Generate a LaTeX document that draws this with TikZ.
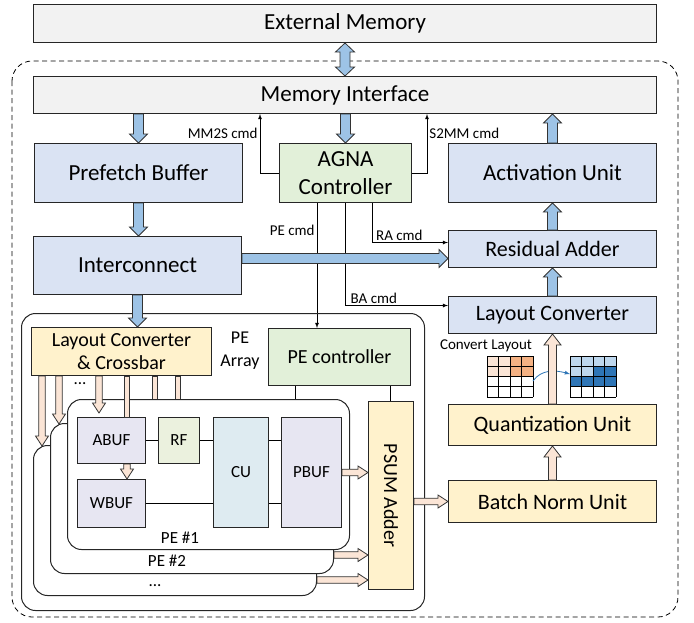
\documentclass[tikz,border=0pt]{standalone}
\usepackage{fontspec}
\setmainfont{Carlito}
\usepackage{graphicx}
\usetikzlibrary{arrows,positioning,calc}

\definecolor{memgray}{RGB}{242,242,242}
\definecolor{unitblue}{RGB}{218,227,243}
\definecolor{ctrlgreen}{RGB}{226,240,217}
\definecolor{unityellow}{RGB}{255,242,204}
\definecolor{buflav}{RGB}{231,230,242}
\definecolor{rfgreen}{RGB}{235,241,222}
\definecolor{cublue}{RGB}{222,235,241}
\definecolor{arrowblue}{RGB}{157,195,230}
\definecolor{arrowpink}{RGB}{251,229,214}
\definecolor{cellorange}{RGB}{244,177,131}
\definecolor{celllight}{RGB}{189,215,238}
\definecolor{celldark}{RGB}{46,117,182}

\tikzset{
  fatsize/.code args={#1/#2/#3}{\def\fatsw{#1}\def\fathw{#2}\def\fathl{#3}},
  fat/.style={to path={let \p1=(\tikztostart), \p2=(\tikztotarget), \p3=($(\p2)!\fathl!(\p1)$) in
      ($(\p1)!\fatsw!90:(\p2)$) -- ($(\p3)!\fatsw!90:(\p2)$) -- ($(\p3)!\fathw!90:(\p2)$)
      -- (\p2) -- ($(\p3)!\fathw!-90:(\p2)$) -- ($(\p3)!\fatsw!-90:(\p2)$)
      -- ($(\p1)!\fatsw!-90:(\p2)$) -- cycle}},
  fatboth/.style={to path={let \p1=(\tikztostart), \p2=(\tikztotarget), \p3=($(\p2)!\fathl!(\p1)$), \p4=($(\p1)!\fathl!(\p2)$) in
      (\p1) -- ($(\p4)!\fathw!90:(\p2)$) -- ($(\p4)!\fatsw!90:(\p2)$) -- ($(\p3)!\fatsw!90:(\p2)$)
      -- ($(\p3)!\fathw!90:(\p2)$) -- (\p2) -- ($(\p3)!\fathw!-90:(\p2)$) -- ($(\p3)!\fatsw!-90:(\p2)$)
      -- ($(\p4)!\fatsw!-90:(\p2)$) -- ($(\p4)!\fathw!-90:(\p2)$) -- cycle}},
  fatbar/.style={to path={let \p1=(\tikztostart), \p2=(\tikztotarget) in
      ($(\p1)!\fatsw!90:(\p2)$) -- ($(\p2)!\fatsw!-90:(\p1)$) -- ($(\p2)!\fatsw!90:(\p1)$)
      -- ($(\p1)!\fatsw!-90:(\p2)$) -- cycle}},
  bluearrow/.style={fat, fatsize=5pt/9pt/9pt, fill=arrowblue, draw=black!80, line width=0.8pt},
  pinkarrow/.style={fat, fatsize=4pt/8.5pt/11pt, fill=arrowpink, draw=black!80, line width=0.8pt},
  pinksmall/.style={fat, fatsize=3.3pt/6.5pt/10pt, fill=arrowpink, draw=black!80, line width=0.8pt},
  pinkbar/.style={fatbar, fatsize=2.8pt/6.5pt/10pt, fill=arrowpink, draw=black!80, line width=0.8pt},
  box/.style={draw=black!85, line width=1pt, inner sep=0pt, anchor=north west, align=center},
  toptext/.style={font=\fontsize{23}{28}\selectfont},
  bigtext/.style={font=\fontsize{22}{27}\selectfont},
  midtext/.style={font=\fontsize{20}{23}\selectfont},
  buftext/.style={font=\fontsize{17}{20}\selectfont},
  cmdtext/.style={font=\fontsize{15}{18}\selectfont, inner sep=2pt},
  membox/.style={box, toptext, fill=memgray, minimum width=623pt},
  unit/.style={box, toptext, fill=unitblue, minimum width=208pt, minimum height=59pt},
  yunit/.style={box, bigtext, fill=unityellow, minimum width=208pt},
  ctrl/.style={box, fill=ctrlgreen},
  pecard/.style={box, fill=white, rounded corners=14pt, minimum width=283pt, minimum height=150pt},
  buf/.style={box, buftext, fill=buflav},
  cmdline/.style={draw=black, line width=0.8pt, -latex},
  wire/.style={draw=black, line width=0.8pt},
}

\begin{document}
\begin{tikzpicture}[x=1pt, y=-1pt]
  \useasboundingbox (0,0) rectangle (694,622);

  % accelerator frame
  \draw[dash pattern=on 5pt off 3.5pt, line width=0.8pt, rounded corners=20pt] (12,61) rectangle (678,617);

  \node[membox, minimum height=38pt] (ext) at (33,4) {External Memory};
  \node[membox, minimum height=37pt] (memif) at (33,76) {Memory Interface};
  \node[unit] (prefetch) at (34,143) {Prefetch Buffer};
  \node[ctrl, toptext, minimum width=132pt, minimum height=59pt] (agna) at (279,143) {AGNA\\Controller};
  \node[unit] (act) at (448,143) {Activation Unit};
  \node[unit, minimum height=58pt] (inter) at (33,236) {Interconnect};
  \node[unit, bigtext, minimum height=37pt] (resadd) at (448,230) {Residual Adder};
  \node[unit, bigtext, minimum height=37pt] (laycon) at (448,296) {Layout Converter};
  \node[yunit, minimum height=41pt] (quant) at (448,404) {Quantization Unit};
  \node[yunit, minimum height=42pt] (bnorm) at (448,480) {Batch Norm Unit};

  % commands from the controller
  \draw[cmdline] (agna.west) -| (260,0 |- memif.south) node[cmdtext, pos=0.84, left] {MM2S cmd};
  \draw[cmdline] (agna.east) -| (427,0 |- memif.south) node[cmdtext, pos=0.84, right] {S2MM cmd};
  \draw[cmdline] (317,0 |- agna.south) -- (317,328) node[cmdtext, pos=0.22, left] {PE cmd};
  \draw[cmdline] (372,0 |- agna.south) |- ($(resadd.west)+(0,-6.5)$) node[cmdtext, pos=0.68, above] {RA cmd};
  \draw[cmdline] (345,0 |- agna.south) |- ($(laycon.west)+(0,-9.5)$) node[cmdtext, pos=0.64, above] {BA cmd};

  % data paths
  \draw[fatboth, fatsize=5pt/9.5pt/9pt, fill=arrowblue, draw=black!80, line width=0.8pt] (ext.south) to (memif.north);
  \draw[bluearrow] (prefetch.north |- memif.south) to (prefetch.north);
  \draw[bluearrow] (agna.north |- memif.south) to (agna.north);
  \draw[bluearrow] (act.north) to (act.north |- memif.south);
  \draw[bluearrow] (prefetch.south) to (prefetch.south |- inter.north);
  \draw[bluearrow] ($(inter.east)+(0,-7)$) to ($(resadd.west)+(0,9.5)$);
  \draw[bluearrow] (laycon.north) to (resadd.south);
  \draw[bluearrow] (resadd.north) to (act.south);

  % PE array
  \node[box, rounded corners=14pt, minimum width=403pt, minimum height=297pt] (pearray) at (21,313) {};
  \node[box, midtext, fill=unityellow, minimum width=180pt, minimum height=48pt] (xbar) at (31,327) {Layout Converter\\\& Crossbar};
  \draw[bluearrow] (inter.south) to (inter.south |- xbar.north);
  \node[align=center, font=\fontsize{18}{23}\selectfont] (pelabel) at (240,351) {PE\\Array};
  \node[ctrl, midtext, minimum width=142pt, minimum height=57pt] (pectrl) at (268,328) {PE controller};
  \node[box, midtext, fill=unityellow, minimum width=45pt, minimum height=188pt] (psum) at (368,401) {\rotatebox{-90}{PSUM Adder}};

  \draw[pinksmall] (42,0 |- xbar.south) to (42,446);
  \draw[pinksmall] (59,0 |- xbar.south) to (59,424);
  \draw[pinkbar] (155,0 |- xbar.south) to (155,399);
  \draw[pinkbar] (178,0 |- xbar.south) to (178,399);
  \node[buftext] (xdots) at (80,384) {...};

  \node[pecard] (pe3) at (33,445) {};
  \node[pecard] (pe2) at (50,423) {};
  \node[pecard, minimum width=282pt] (pe1) at (67,399) {};

  \node[buf, minimum width=68pt, minimum height=46pt] (abuf) at (77,417) {ABUF};
  \node[buf, fill=rfgreen, minimum width=41pt, minimum height=46pt] (rf) at (158,417) {RF};
  \node[buf, fill=cublue, minimum width=55pt, minimum height=110pt] (cu) at (213,417) {CU};
  \node[buf, minimum width=60pt, minimum height=110pt] (pbuf) at (281,417) {PBUF};
  \node[buf, minimum width=68pt, minimum height=48pt] (wbuf) at (77,479) {WBUF};
  \node[buftext] (pe1lab) at (180,538) {PE \#1};
  \node[buftext] (pe2lab) at (167,561) {PE \#2};
  \node[buftext, inner sep=1pt] (pe3lab) at (155,586) {...};

  \draw[pinksmall] (99,0 |- xbar.south) to (99,413);
  \draw[pinkbar] (127,0 |- xbar.south) to (127,0 |- abuf.north);
  \draw[pinksmall] (127,0 |- abuf.south) to (127,0 |- wbuf.north);

  \draw[wire] (abuf.east) -- (rf.west);
  \draw[wire] (rf.east) -- (cu.west |- rf.east);
  \draw[wire] (wbuf.east) -- (cu.west |- wbuf.east);
  \draw[wire] (cu.east |- rf.east) -- (pbuf.west |- rf.east);
  \draw[wire] (cu.east |- wbuf.east) -- (pbuf.west |- wbuf.east);
  \draw[wire] (295,0 |- pectrl.south) -- (295,0 |- pe1.north);
  \draw[wire] (390,0 |- pectrl.south) -- (390,0 |- psum.north);

  \draw[pinksmall] (pbuf.east) to (psum.west |- pbuf.east);
  \draw[pinksmall] (pe2.east |- 0,555) to (psum.west |- 0,555);
  \draw[pinksmall] (pe3.east |- 0,580) to (psum.west |- 0,580);
  \draw[pinksmall] (psum.east |- bnorm.west) to (bnorm.west);

  % layout conversion
  \node[cmdtext] (cvtlab) at (486,346) {Convert Layout};
  \fill[arrowpink] (487,356) rectangle (510,376.5);
  \fill[cellorange] (510,356) rectangle (533,376.5);
  \fill[celllight] (570,356) rectangle (616,366.25);
  \fill[celllight] (570,366.25) rectangle (593,376.5);
  \fill[celldark] (593,366.25) rectangle (616,376.5);
  \fill[celldark] (570,376.5) rectangle (616,386.75);
  \foreach \gx in {487,570}
    \foreach \i in {0,...,4} {
      \draw[line width=0.8pt] (\gx+\i*11.5,356) -- (\gx+\i*11.5,397);
      \draw[line width=0.8pt] (\gx,356+\i*10.25) -- (\gx+46,356+\i*10.25);
    }
  \coordinate (gridL) at (533,381);
  \coordinate (gridR) at (570,374);
  \draw[-latex, celldark, line width=0.8pt] (gridL) to[out=55, in=165] (gridR);

  \draw[pinkarrow] (quant.north) to (laycon.south);
  \draw[pinkarrow] (bnorm.north) to (quant.south);
\end{tikzpicture}
\end{document}
